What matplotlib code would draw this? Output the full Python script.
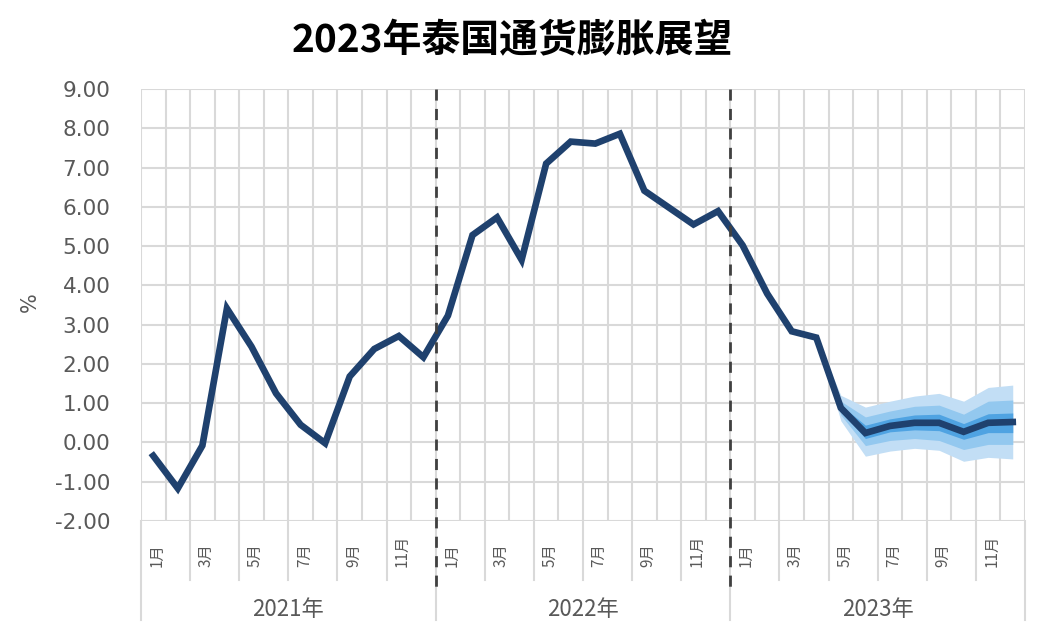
import numpy as np
import matplotlib
matplotlib.use("Agg")
from matplotlib import pyplot as plt
from matplotlib.transforms import blended_transform_factory

plt.rcParams['font.family'] = ['Noto Sans CJK SC', 'DejaVu Sans']

# data
years = ['2021年', '2022年', '2023年']
month_labels = ['1月', '', '3月', '', '5月', '', '7月', '', '9月', '', '11月', '']
cpi = [-0.34, -1.17, -0.08, 3.41, 2.44, 1.25, 0.45, -0.02, 1.68, 2.38, 2.71, 2.17,
       3.23, 5.28, 5.73, 4.65, 7.10, 7.66, 7.61, 7.86, 6.41, 5.98, 5.55, 5.89,
       5.02, 3.79, 2.83, 2.67, 0.88, 0.24, 0.42, 0.50, 0.50, 0.27, 0.50, 0.52]

# fan bands, Apr 2023 .. Dec 2023
fan_start = 27
outer_hi = [2.67, 1.20, 0.90, 1.05, 1.18, 1.25, 1.05, 1.40, 1.46]
outer_lo = [2.67, 0.55, -0.35, -0.22, -0.15, -0.20, -0.48, -0.38, -0.42]
mid_hi = [2.67, 1.05, 0.65, 0.80, 0.92, 0.95, 0.72, 1.05, 1.08]
mid_lo = [2.67, 0.70, -0.08, 0.05, 0.10, 0.05, -0.18, -0.05, -0.05]
inner_hi = [2.67, 0.95, 0.44, 0.60, 0.70, 0.72, 0.48, 0.73, 0.75]
inner_lo = [2.67, 0.80, 0.10, 0.27, 0.32, 0.30, 0.08, 0.25, 0.25]

n = len(cpi)
x = np.arange(n) + 0.5
xf = x[fan_start:fan_start + len(outer_hi)]

fig = plt.figure(figsize=(10.42, 6.39), dpi=100)
ax = fig.add_axes([0.1353, 0.1847, 0.8484, 0.676])

grid_c = '#d9d9d9'
text_c = '#595959'

ax.set_xlim(0, n)
ax.set_ylim(-2, 9)
ax.set_yticks(np.arange(-2, 10))
ax.set_yticklabels([f'{v:.2f}' for v in np.arange(-2, 10)], color=text_c,
                   fontsize=15.5, family='DejaVu Sans')
ax.set_xticks([])
ax.tick_params(axis='y', length=0, pad=22)
for s in ax.spines.values():
    s.set_visible(False)

for v in range(-2, 10):
    ax.axhline(v, color=grid_c, lw=1.5, zorder=0)
for b in range(n + 1):
    ax.axvline(b, color=grid_c, lw=1.5, zorder=0)

ax.fill_between(xf, outer_lo, outer_hi, color='#c2def5', lw=0, zorder=2)
ax.fill_between(xf, mid_lo, mid_hi, color='#93c8ef', lw=0, zorder=2)
ax.fill_between(xf, inner_lo, inner_hi, color='#4fa3e2', lw=0, zorder=2)

ax.plot(x, cpi, color='#1f416e', lw=4.8, solid_joinstyle='miter', zorder=3)

fig.text(30 / 1042, 1 - 302 / 639, '%', rotation=90, ha='center', va='center',
         color=text_c, fontsize=15, family='DejaVu Sans')

# category axis below the plot
tr = blended_transform_factory(ax.transData, ax.transAxes)
for b in range(2, n, 2):
    if b % 12 != 0:
        ax.plot([b, b], [0, -0.137], color=grid_c, lw=1.5, transform=tr, clip_on=False)
for b in range(0, n + 1, 12):
    ax.plot([b, b], [0, -0.229], color=grid_c, lw=1.5, transform=tr, clip_on=False)
for b in (12, 24):
    ax.plot([b, b], [1, -0.16], color='#404040', lw=2, ls=(0, (4, 3)),
            transform=tr, clip_on=False, zorder=4)

for i in range(n):
    lab = month_labels[i % 12]
    if lab:
        ax.text(x[i] + 0.15, -0.106, lab, rotation=90, ha='center', va='bottom',
                fontsize=11, color=text_c, transform=tr)

for k, yr in enumerate(years):
    ax.text(k * 12 + 6, -0.206, yr, ha='center', va='center', fontsize=16,
            color=text_c, transform=tr)

fig.text(0.492, 0.937, '2023年泰国通货膨胀展望', ha='center', va='center',
         fontsize=28, fontweight='bold', color='black')

fig.savefig('out.png', dpi=100)
